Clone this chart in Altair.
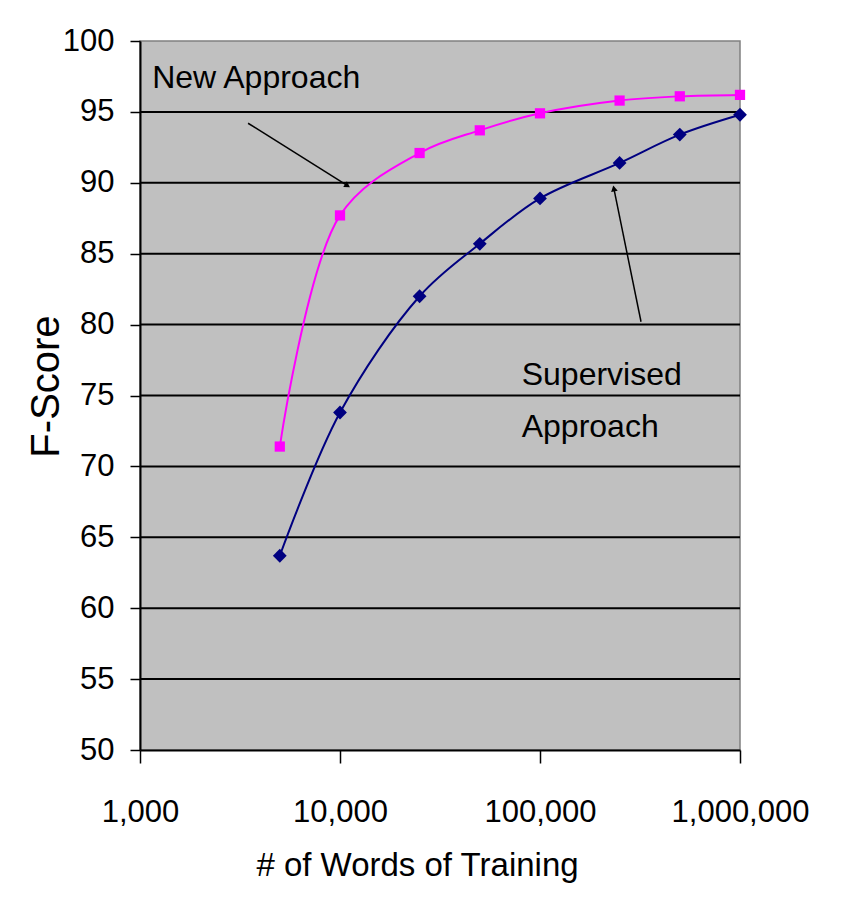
import altair as alt
import pandas as pd

# ---- data ----
words = [5000, 10000, 25000, 50000, 100000, 250000, 500000, 1000000]
new_approach = [71.4, 87.7, 92.1, 93.7, 94.9, 95.8, 96.1, 96.2]
supervised = [63.7, 73.8, 82.0, 85.7, 88.9, 91.4, 93.4, 94.8]

x_ticks = [1000, 10000, 100000, 1000000]
y_ticks = [50, 55, 60, 65, 70, 75, 80, 85, 90, 95, 100]
grid_vals = [55, 60, 65, 70, 75, 80, 85, 90, 95]

# annotation texts (data coordinates)
label_text = ["New Approach", "Supervised", "Approach"]
label_x = [1150, 81000, 81000]
label_y = [96.7, 75.75, 72.05]

# arrows: start -> end (data coordinates), head angle in screen degrees
arrow_x1 = [3470, 320000]
arrow_y1 = [94.2, 80.2]
arrow_x2 = [10900, 234000]
arrow_y2 = [89.8, 89.6]
arrow_angle = [122.6, 348.6]

FONT = "Liberation Sans Narrow, Arial Narrow, Liberation Sans, Arial, sans-serif"

df = pd.DataFrame({
    "words": words * 2,
    "score": new_approach + supervised,
    "series": ["New Approach"] * len(words) + ["Supervised Approach"] * len(words),
})
grid_df = pd.DataFrame({"g": grid_vals})
lab_df = pd.DataFrame({"t": label_text, "x": label_x, "y": label_y})
arr_df = pd.DataFrame({"x1": arrow_x1, "y1": arrow_y1, "x2": arrow_x2, "y2": arrow_y2, "a": arrow_angle})

series_names = ["New Approach", "Supervised Approach"]
xscale = alt.Scale(type="log", domain=[1000, 1000000], nice=False)
yscale = alt.Scale(domain=[50, 100], nice=False, zero=False)
cscale = alt.Scale(domain=series_names, range=["#ff00ff", "#000080"])
sscale = alt.Scale(domain=series_names, range=["square", "diamond"])
zscale = alt.Scale(domain=series_names, range=[105, 190])

x_axis = alt.Axis(
    values=x_ticks, format=",d", grid=False,
    tickSize=13, tickColor="black", tickWidth=1.5,
    domainColor="black", domainWidth=2,
    labelFont=FONT, labelFontSize=31, labelColor="black", labelPadding=34,
    labelFlush=False, labelOverlap=False,
    title="# of Words of Training", titleFont=FONT, titleFontSize=33,
    titleFontWeight="normal", titleColor="black",
    titleX=277, titleY=125, titleBaseline="alphabetic", titleAlign="center",
)
y_axis = alt.Axis(
    values=y_ticks, grid=False,
    tickSize=10, tickColor="black", tickWidth=1.5,
    domainColor="black", domainWidth=2,
    labelFont=FONT, labelFontSize=31, labelColor="black", labelPadding=16,
    title="F-Score", titleFont="Liberation Sans, Arial, sans-serif", titleFontSize=40,
    titleFontWeight="normal", titleColor="black", titleAngle=270,
    titleX=-82, titleY=345, titleBaseline="alphabetic", titleAlign="center",
)

grid = alt.Chart(grid_df).mark_rule(color="black", strokeWidth=2).encode(
    y=alt.Y("g:Q", scale=yscale, axis=y_axis)
)

lines = alt.Chart(df).mark_line(interpolate="catmull-rom", strokeWidth=2).encode(
    x=alt.X("words:Q", scale=xscale, axis=x_axis),
    y=alt.Y("score:Q", scale=yscale),
    color=alt.Color("series:N", scale=cscale, legend=None),
)
points = alt.Chart(df).mark_point(filled=True, opacity=1).encode(
    x=alt.X("words:Q", scale=xscale),
    y=alt.Y("score:Q", scale=yscale),
    color=alt.Color("series:N", scale=cscale, legend=None),
    shape=alt.Shape("series:N", scale=sscale, legend=None),
    size=alt.Size("series:N", scale=zscale, legend=None),
)

arrows = alt.Chart(arr_df).mark_rule(color="black", strokeWidth=1.5).encode(
    x=alt.X("x1:Q", scale=xscale), y=alt.Y("y1:Q", scale=yscale),
    x2="x2:Q", y2="y2:Q",
)
heads = alt.Chart(arr_df).mark_point(shape="triangle-up", filled=True, color="black", opacity=1, size=45).encode(
    x=alt.X("x2:Q", scale=xscale), y=alt.Y("y2:Q", scale=yscale),
    angle=alt.Angle("a:Q", scale=None),
)

labels = alt.Chart(lab_df).mark_text(
    font=FONT, fontSize=32, color="black", align="left", baseline="alphabetic"
).encode(
    x=alt.X("x:Q", scale=xscale), y=alt.Y("y:Q", scale=yscale), text="t:N"
)

chart = alt.layer(grid, lines, points, arrows, heads, labels).properties(
    width=600, height=709,
    autosize=alt.AutoSizeParams(type="none"),
    padding={"left": 132, "top": 33, "right": 90, "bottom": 140},
    background="white",
).configure_view(
    fill="#c0c0c0", stroke="#808080", strokeWidth=1.5
)

chart.save("out.html", embed_options={"renderer": "svg", "actions": False})
